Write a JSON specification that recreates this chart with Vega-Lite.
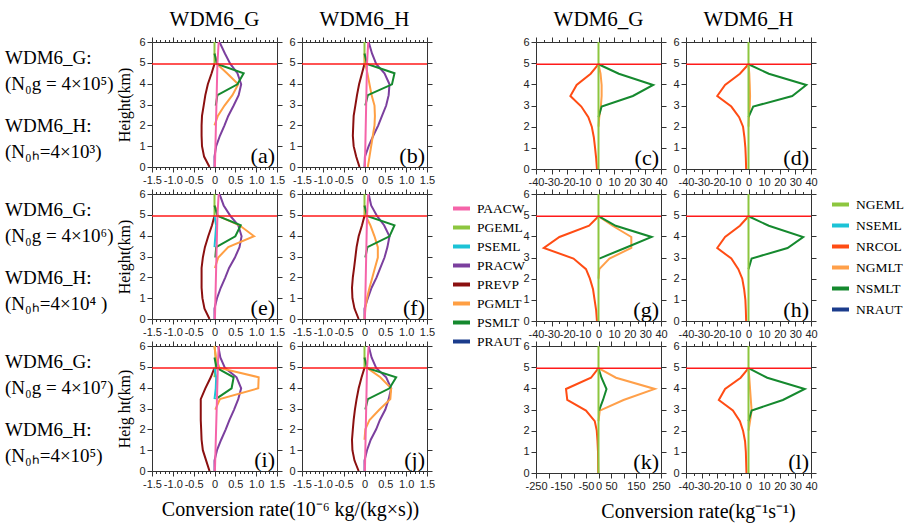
{
  "$schema": "https://vega.github.io/schema/vega-lite/v6.json",
  "padding": {"left": 5, "top": 8, "right": 2, "bottom": 2},
  "background": "white",
  "config": {
    "view": {"stroke": "#333333", "strokeWidth": 1},
    "font": "Liberation Serif",
    "axis": {"domain": false, "grid": false, "title": null, "labelFont": "Liberation Sans", "labelFontSize": 11, "labelColor": "#222222", "tickColor": "#333333", "labelFlush": false, "labelOverlap": false, "labelBound": false, "labelPadding": 2, "titleFont": "Liberation Serif", "titleFontSize": 16, "titleFontWeight": "normal", "titleColor": "black"},
    "legend": {"title": null, "labelFont": "Liberation Serif", "labelFontSize": 13.5, "labelColor": "black", "symbolType": "stroke", "symbolStrokeWidth": 4, "symbolSize": 289, "labelOffset": 5, "labelLimit": 0},
    "title": {"font": "Liberation Serif", "fontSize": 21, "fontWeight": "normal", "color": "black", "offset": 6}
  },
  "datasets": {
    "T": [
      {"row": 1, "m": "G", "t": "WDM6_G:\n(N₀g = 4×10⁵)"},
      {"row": 1, "m": "H", "t": "WDM6_H:\n(N₀ₕ=4×10³)"},
      {"row": 2, "m": "G", "t": "WDM6_G:\n(N₀g = 4×10⁶)"},
      {"row": 2, "m": "H", "t": "WDM6_H:\n(N₀ₕ=4×10⁴ )"},
      {"row": 3, "m": "G", "t": "WDM6_G:\n(N₀g = 4×10⁷)"},
      {"row": 3, "m": "H", "t": "WDM6_H:\n(N₀ₕ=4×10⁵)"}
    ],
    "L": [
      {"pan":"a","p":"PGEML","h":4.95,"v":0},{"pan":"a","p":"PGEML","h":6,"v":0},
      {"pan":"a","p":"PREVP","h":0,"v":-0.12},{"pan":"a","p":"PREVP","h":0.5,"v":-0.25},{"pan":"a","p":"PREVP","h":1,"v":-0.3},{"pan":"a","p":"PREVP","h":1.5,"v":-0.31},{"pan":"a","p":"PREVP","h":2,"v":-0.31},{"pan":"a","p":"PREVP","h":2.45,"v":-0.3},{"pan":"a","p":"PREVP","h":2.95,"v":-0.26},{"pan":"a","p":"PREVP","h":3.45,"v":-0.22},{"pan":"a","p":"PREVP","h":3.97,"v":-0.16},{"pan":"a","p":"PREVP","h":4.5,"v":-0.07},{"pan":"a","p":"PREVP","h":4.95,"v":0},
      {"pan":"a","p":"PRACW","h":0,"v":0},{"pan":"a","p":"PRACW","h":0.5,"v":0},{"pan":"a","p":"PRACW","h":1,"v":0.04},{"pan":"a","p":"PRACW","h":1.5,"v":0.13},{"pan":"a","p":"PRACW","h":2,"v":0.24},{"pan":"a","p":"PRACW","h":2.45,"v":0.33},{"pan":"a","p":"PRACW","h":2.95,"v":0.46},{"pan":"a","p":"PRACW","h":3.45,"v":0.58},{"pan":"a","p":"PRACW","h":3.97,"v":0.64},{"pan":"a","p":"PRACW","h":4.5,"v":0.55},{"pan":"a","p":"PRACW","h":4.95,"v":0.38},{"pan":"a","p":"PRACW","h":5.45,"v":0.25},{"pan":"a","p":"PRACW","h":6,"v":0.12},
      {"pan":"a","p":"PGMLT","h":2,"v":0},{"pan":"a","p":"PGMLT","h":2.45,"v":0.08},{"pan":"a","p":"PGMLT","h":2.95,"v":0.24},{"pan":"a","p":"PGMLT","h":3.45,"v":0.43},{"pan":"a","p":"PGMLT","h":3.97,"v":0.57},{"pan":"a","p":"PGMLT","h":4.5,"v":0.3},{"pan":"a","p":"PGMLT","h":4.95,"v":0.06},{"pan":"a","p":"PGMLT","h":5.45,"v":0},
      {"pan":"a","p":"PSMLT","h":2.95,"v":0.03},{"pan":"a","p":"PSMLT","h":3.45,"v":0.07},{"pan":"a","p":"PSMLT","h":3.97,"v":0.55},{"pan":"a","p":"PSMLT","h":4.5,"v":0.7},{"pan":"a","p":"PSMLT","h":4.95,"v":0.06},{"pan":"a","p":"PSMLT","h":5.45,"v":0},
      {"pan":"a","p":"PAACW","h":0,"v":0.01},{"pan":"a","p":"PAACW","h":4.95,"v":0.07},{"pan":"a","p":"PAACW","h":6,"v":0.1},

      {"pan":"b","p":"PGEML","h":4.95,"v":0},{"pan":"b","p":"PGEML","h":6,"v":0},
      {"pan":"b","p":"PREVP","h":0,"v":-0.12},{"pan":"b","p":"PREVP","h":0.5,"v":-0.2},{"pan":"b","p":"PREVP","h":1,"v":-0.26},{"pan":"b","p":"PREVP","h":1.5,"v":-0.28},{"pan":"b","p":"PREVP","h":2,"v":-0.27},{"pan":"b","p":"PREVP","h":2.45,"v":-0.26},{"pan":"b","p":"PREVP","h":2.95,"v":-0.22},{"pan":"b","p":"PREVP","h":3.45,"v":-0.18},{"pan":"b","p":"PREVP","h":3.97,"v":-0.13},{"pan":"b","p":"PREVP","h":4.5,"v":-0.06},{"pan":"b","p":"PREVP","h":4.95,"v":0},
      {"pan":"b","p":"PRACW","h":0,"v":0},{"pan":"b","p":"PRACW","h":0.5,"v":0.01},{"pan":"b","p":"PRACW","h":1,"v":0.1},{"pan":"b","p":"PRACW","h":1.5,"v":0.21},{"pan":"b","p":"PRACW","h":2,"v":0.33},{"pan":"b","p":"PRACW","h":2.45,"v":0.42},{"pan":"b","p":"PRACW","h":2.95,"v":0.52},{"pan":"b","p":"PRACW","h":3.45,"v":0.58},{"pan":"b","p":"PRACW","h":3.97,"v":0.6},{"pan":"b","p":"PRACW","h":4.5,"v":0.48},{"pan":"b","p":"PRACW","h":4.95,"v":0.28},{"pan":"b","p":"PRACW","h":5.45,"v":0.18},{"pan":"b","p":"PRACW","h":6,"v":0.1},
      {"pan":"b","p":"PGMLT","h":0,"v":0.08},{"pan":"b","p":"PGMLT","h":0.5,"v":0.12},{"pan":"b","p":"PGMLT","h":1,"v":0.16},{"pan":"b","p":"PGMLT","h":1.5,"v":0.2},{"pan":"b","p":"PGMLT","h":2,"v":0.24},{"pan":"b","p":"PGMLT","h":2.45,"v":0.25},{"pan":"b","p":"PGMLT","h":2.95,"v":0.24},{"pan":"b","p":"PGMLT","h":3.45,"v":0.17},{"pan":"b","p":"PGMLT","h":3.97,"v":0.12},{"pan":"b","p":"PGMLT","h":4.5,"v":0.07},{"pan":"b","p":"PGMLT","h":4.95,"v":0.02},{"pan":"b","p":"PGMLT","h":5.45,"v":0},
      {"pan":"b","p":"PSMLT","h":2.95,"v":0.02},{"pan":"b","p":"PSMLT","h":3.45,"v":0.08},{"pan":"b","p":"PSMLT","h":3.97,"v":0.66},{"pan":"b","p":"PSMLT","h":4.5,"v":0.72},{"pan":"b","p":"PSMLT","h":4.95,"v":0.06},{"pan":"b","p":"PSMLT","h":5.45,"v":0},
      {"pan":"b","p":"PAACW","h":0,"v":0.01},{"pan":"b","p":"PAACW","h":4.95,"v":0.06},{"pan":"b","p":"PAACW","h":6,"v":0.09},

      {"pan":"e","p":"PGEML","h":4.95,"v":0},{"pan":"e","p":"PGEML","h":6,"v":0},
      {"pan":"e","p":"PREVP","h":0,"v":-0.12},{"pan":"e","p":"PREVP","h":0.5,"v":-0.24},{"pan":"e","p":"PREVP","h":1,"v":-0.29},{"pan":"e","p":"PREVP","h":1.5,"v":-0.31},{"pan":"e","p":"PREVP","h":2,"v":-0.31},{"pan":"e","p":"PREVP","h":2.45,"v":-0.31},{"pan":"e","p":"PREVP","h":2.95,"v":-0.28},{"pan":"e","p":"PREVP","h":3.45,"v":-0.23},{"pan":"e","p":"PREVP","h":3.97,"v":-0.15},{"pan":"e","p":"PREVP","h":4.5,"v":-0.06},{"pan":"e","p":"PREVP","h":4.95,"v":0},
      {"pan":"e","p":"PRACW","h":0,"v":0},{"pan":"e","p":"PRACW","h":0.5,"v":0},{"pan":"e","p":"PRACW","h":1,"v":0.06},{"pan":"e","p":"PRACW","h":1.5,"v":0.15},{"pan":"e","p":"PRACW","h":2,"v":0.26},{"pan":"e","p":"PRACW","h":2.45,"v":0.35},{"pan":"e","p":"PRACW","h":2.95,"v":0.49},{"pan":"e","p":"PRACW","h":3.45,"v":0.6},{"pan":"e","p":"PRACW","h":3.97,"v":0.65},{"pan":"e","p":"PRACW","h":4.5,"v":0.57},{"pan":"e","p":"PRACW","h":4.95,"v":0.38},{"pan":"e","p":"PRACW","h":5.45,"v":0.22},{"pan":"e","p":"PRACW","h":6,"v":0.12},
      {"pan":"e","p":"PGMLT","h":2.45,"v":0.01},{"pan":"e","p":"PGMLT","h":2.95,"v":0.09},{"pan":"e","p":"PGMLT","h":3.45,"v":0.33},{"pan":"e","p":"PGMLT","h":3.97,"v":0.95},{"pan":"e","p":"PGMLT","h":4.5,"v":0.6},{"pan":"e","p":"PGMLT","h":4.95,"v":0.08},{"pan":"e","p":"PGMLT","h":5.3,"v":0.04},{"pan":"e","p":"PGMLT","h":5.45,"v":0},
      {"pan":"e","p":"PSMLT","h":2.95,"v":0.02},{"pan":"e","p":"PSMLT","h":3.45,"v":0.04},{"pan":"e","p":"PSMLT","h":3.97,"v":0.5},{"pan":"e","p":"PSMLT","h":4.5,"v":0.63},{"pan":"e","p":"PSMLT","h":4.95,"v":0.07},{"pan":"e","p":"PSMLT","h":5.45,"v":0},
      {"pan":"e","p":"PSEML","h":3.45,"v":0},{"pan":"e","p":"PSEML","h":3.97,"v":0.02},{"pan":"e","p":"PSEML","h":4.5,"v":0.04},{"pan":"e","p":"PSEML","h":4.95,"v":0},
      {"pan":"e","p":"PAACW","h":0,"v":0.01},{"pan":"e","p":"PAACW","h":4.95,"v":0.07},{"pan":"e","p":"PAACW","h":6,"v":0.1},

      {"pan":"f","p":"PGEML","h":4.95,"v":0},{"pan":"f","p":"PGEML","h":6,"v":0},
      {"pan":"f","p":"PREVP","h":0,"v":-0.14},{"pan":"f","p":"PREVP","h":0.5,"v":-0.24},{"pan":"f","p":"PREVP","h":1,"v":-0.29},{"pan":"f","p":"PREVP","h":1.5,"v":-0.3},{"pan":"f","p":"PREVP","h":2,"v":-0.28},{"pan":"f","p":"PREVP","h":2.45,"v":-0.25},{"pan":"f","p":"PREVP","h":2.95,"v":-0.22},{"pan":"f","p":"PREVP","h":3.45,"v":-0.19},{"pan":"f","p":"PREVP","h":3.97,"v":-0.14},{"pan":"f","p":"PREVP","h":4.5,"v":-0.06},{"pan":"f","p":"PREVP","h":4.95,"v":0},
      {"pan":"f","p":"PRACW","h":0,"v":0},{"pan":"f","p":"PRACW","h":0.5,"v":0},{"pan":"f","p":"PRACW","h":1,"v":0.08},{"pan":"f","p":"PRACW","h":1.5,"v":0.17},{"pan":"f","p":"PRACW","h":2,"v":0.29},{"pan":"f","p":"PRACW","h":2.45,"v":0.38},{"pan":"f","p":"PRACW","h":2.95,"v":0.48},{"pan":"f","p":"PRACW","h":3.45,"v":0.55},{"pan":"f","p":"PRACW","h":3.97,"v":0.6},{"pan":"f","p":"PRACW","h":4.5,"v":0.47},{"pan":"f","p":"PRACW","h":4.95,"v":0.3},{"pan":"f","p":"PRACW","h":5.45,"v":0.16},{"pan":"f","p":"PRACW","h":6,"v":0.1},
      {"pan":"f","p":"PGMLT","h":0,"v":0},{"pan":"f","p":"PGMLT","h":0.5,"v":0.02},{"pan":"f","p":"PGMLT","h":1,"v":0.06},{"pan":"f","p":"PGMLT","h":1.5,"v":0.12},{"pan":"f","p":"PGMLT","h":2,"v":0.19},{"pan":"f","p":"PGMLT","h":2.45,"v":0.25},{"pan":"f","p":"PGMLT","h":2.95,"v":0.32},{"pan":"f","p":"PGMLT","h":3.45,"v":0.32},{"pan":"f","p":"PGMLT","h":3.97,"v":0.24},{"pan":"f","p":"PGMLT","h":4.5,"v":0.14},{"pan":"f","p":"PGMLT","h":4.95,"v":0.03},{"pan":"f","p":"PGMLT","h":5.45,"v":0},
      {"pan":"f","p":"PSMLT","h":2.95,"v":0.02},{"pan":"f","p":"PSMLT","h":3.45,"v":0.07},{"pan":"f","p":"PSMLT","h":3.97,"v":0.6},{"pan":"f","p":"PSMLT","h":4.5,"v":0.72},{"pan":"f","p":"PSMLT","h":4.95,"v":0.06},{"pan":"f","p":"PSMLT","h":5.45,"v":0},
      {"pan":"f","p":"PAACW","h":0,"v":0.01},{"pan":"f","p":"PAACW","h":4.95,"v":0.06},{"pan":"f","p":"PAACW","h":6,"v":0.09},

      {"pan":"i","p":"PGEML","h":4.5,"v":0},{"pan":"i","p":"PGEML","h":4.95,"v":0.03},{"pan":"i","p":"PGEML","h":5.45,"v":0.03},{"pan":"i","p":"PGEML","h":6,"v":0},
      {"pan":"i","p":"PREVP","h":0,"v":-0.12},{"pan":"i","p":"PREVP","h":0.5,"v":-0.2},{"pan":"i","p":"PREVP","h":1,"v":-0.28},{"pan":"i","p":"PREVP","h":1.5,"v":-0.31},{"pan":"i","p":"PREVP","h":2,"v":-0.32},{"pan":"i","p":"PREVP","h":2.45,"v":-0.33},{"pan":"i","p":"PREVP","h":2.95,"v":-0.33},{"pan":"i","p":"PREVP","h":3.45,"v":-0.33},{"pan":"i","p":"PREVP","h":3.97,"v":-0.22},{"pan":"i","p":"PREVP","h":4.5,"v":-0.09},{"pan":"i","p":"PREVP","h":4.95,"v":0},
      {"pan":"i","p":"PRACW","h":0,"v":0},{"pan":"i","p":"PRACW","h":0.5,"v":0},{"pan":"i","p":"PRACW","h":1,"v":0.06},{"pan":"i","p":"PRACW","h":1.5,"v":0.16},{"pan":"i","p":"PRACW","h":2,"v":0.27},{"pan":"i","p":"PRACW","h":2.45,"v":0.36},{"pan":"i","p":"PRACW","h":2.95,"v":0.47},{"pan":"i","p":"PRACW","h":3.45,"v":0.57},{"pan":"i","p":"PRACW","h":3.97,"v":0.64},{"pan":"i","p":"PRACW","h":4.5,"v":0.53},{"pan":"i","p":"PRACW","h":4.95,"v":0.25},{"pan":"i","p":"PRACW","h":5.45,"v":0.14},{"pan":"i","p":"PRACW","h":6,"v":0.09},
      {"pan":"i","p":"PGMLT","h":2.95,"v":0.02},{"pan":"i","p":"PGMLT","h":3.45,"v":0.13},{"pan":"i","p":"PGMLT","h":3.97,"v":1.05},{"pan":"i","p":"PGMLT","h":4.5,"v":1.06},{"pan":"i","p":"PGMLT","h":4.95,"v":0.12},{"pan":"i","p":"PGMLT","h":5.45,"v":0.03},{"pan":"i","p":"PGMLT","h":6,"v":0},
      {"pan":"i","p":"PSMLT","h":3.45,"v":0.03},{"pan":"i","p":"PSMLT","h":3.97,"v":0.41},{"pan":"i","p":"PSMLT","h":4.5,"v":0.46},{"pan":"i","p":"PSMLT","h":4.95,"v":0.05},{"pan":"i","p":"PSMLT","h":5.45,"v":0},
      {"pan":"i","p":"PSEML","h":3.45,"v":0},{"pan":"i","p":"PSEML","h":3.97,"v":0.03},{"pan":"i","p":"PSEML","h":4.5,"v":0.04},{"pan":"i","p":"PSEML","h":4.95,"v":0},
      {"pan":"i","p":"PAACW","h":0,"v":0.01},{"pan":"i","p":"PAACW","h":4.95,"v":0.08},{"pan":"i","p":"PAACW","h":6,"v":0.1},

      {"pan":"j","p":"PGEML","h":4.95,"v":0},{"pan":"j","p":"PGEML","h":6,"v":0},
      {"pan":"j","p":"PREVP","h":0,"v":-0.14},{"pan":"j","p":"PREVP","h":0.5,"v":-0.24},{"pan":"j","p":"PREVP","h":1,"v":-0.29},{"pan":"j","p":"PREVP","h":1.5,"v":-0.3},{"pan":"j","p":"PREVP","h":2,"v":-0.28},{"pan":"j","p":"PREVP","h":2.45,"v":-0.26},{"pan":"j","p":"PREVP","h":2.95,"v":-0.23},{"pan":"j","p":"PREVP","h":3.45,"v":-0.19},{"pan":"j","p":"PREVP","h":3.97,"v":-0.14},{"pan":"j","p":"PREVP","h":4.5,"v":-0.07},{"pan":"j","p":"PREVP","h":4.95,"v":0},
      {"pan":"j","p":"PRACW","h":0,"v":0},{"pan":"j","p":"PRACW","h":0.5,"v":0},{"pan":"j","p":"PRACW","h":1,"v":0.06},{"pan":"j","p":"PRACW","h":1.5,"v":0.15},{"pan":"j","p":"PRACW","h":2,"v":0.28},{"pan":"j","p":"PRACW","h":2.45,"v":0.37},{"pan":"j","p":"PRACW","h":2.95,"v":0.5},{"pan":"j","p":"PRACW","h":3.45,"v":0.58},{"pan":"j","p":"PRACW","h":3.97,"v":0.64},{"pan":"j","p":"PRACW","h":4.5,"v":0.52},{"pan":"j","p":"PRACW","h":4.95,"v":0.28},{"pan":"j","p":"PRACW","h":5.45,"v":0.17},{"pan":"j","p":"PRACW","h":6,"v":0.1},
      {"pan":"j","p":"PGMLT","h":1.5,"v":0},{"pan":"j","p":"PGMLT","h":2,"v":0.02},{"pan":"j","p":"PGMLT","h":2.45,"v":0.12},{"pan":"j","p":"PGMLT","h":2.95,"v":0.36},{"pan":"j","p":"PGMLT","h":3.45,"v":0.62},{"pan":"j","p":"PGMLT","h":3.97,"v":0.64},{"pan":"j","p":"PGMLT","h":4.5,"v":0.38},{"pan":"j","p":"PGMLT","h":4.95,"v":0.06},{"pan":"j","p":"PGMLT","h":5.45,"v":0},
      {"pan":"j","p":"PSMLT","h":2.95,"v":0.02},{"pan":"j","p":"PSMLT","h":3.45,"v":0.08},{"pan":"j","p":"PSMLT","h":3.97,"v":0.6},{"pan":"j","p":"PSMLT","h":4.5,"v":0.76},{"pan":"j","p":"PSMLT","h":4.95,"v":0.06},{"pan":"j","p":"PSMLT","h":5.45,"v":0},
      {"pan":"j","p":"PAACW","h":0,"v":0.01},{"pan":"j","p":"PAACW","h":4.95,"v":0.06},{"pan":"j","p":"PAACW","h":6,"v":0.1}
    ],
    "R": [
      {"pan":"c","p":"NRCOL","h":0,"v":-1},{"pan":"c","p":"NRCOL","h":0.5,"v":-1.5},{"pan":"c","p":"NRCOL","h":1,"v":-2.2},{"pan":"c","p":"NRCOL","h":1.5,"v":-3},{"pan":"c","p":"NRCOL","h":2,"v":-4.3},{"pan":"c","p":"NRCOL","h":2.45,"v":-6.5},{"pan":"c","p":"NRCOL","h":2.95,"v":-11},{"pan":"c","p":"NRCOL","h":3.45,"v":-18},{"pan":"c","p":"NRCOL","h":3.97,"v":-14},{"pan":"c","p":"NRCOL","h":4.5,"v":-5},{"pan":"c","p":"NRCOL","h":4.95,"v":0},
      {"pan":"c","p":"NGMLT","h":2,"v":0},{"pan":"c","p":"NGMLT","h":2.45,"v":0.5},{"pan":"c","p":"NGMLT","h":2.95,"v":1.5},{"pan":"c","p":"NGMLT","h":3.45,"v":2},{"pan":"c","p":"NGMLT","h":3.97,"v":2},{"pan":"c","p":"NGMLT","h":4.5,"v":1.3},{"pan":"c","p":"NGMLT","h":4.95,"v":0},
      {"pan":"c","p":"NSMLT","h":2.45,"v":0},{"pan":"c","p":"NSMLT","h":2.95,"v":2},{"pan":"c","p":"NSMLT","h":3.45,"v":22},{"pan":"c","p":"NSMLT","h":3.97,"v":35},{"pan":"c","p":"NSMLT","h":4.5,"v":13},{"pan":"c","p":"NSMLT","h":4.95,"v":0},
      {"pan":"c","p":"NGEML","h":0,"v":0},{"pan":"c","p":"NGEML","h":6,"v":0},

      {"pan":"d","p":"NRCOL","h":0,"v":-1.5},{"pan":"d","p":"NRCOL","h":0.5,"v":-1.7},{"pan":"d","p":"NRCOL","h":1,"v":-2},{"pan":"d","p":"NRCOL","h":1.5,"v":-2.6},{"pan":"d","p":"NRCOL","h":2,"v":-3.5},{"pan":"d","p":"NRCOL","h":2.45,"v":-6},{"pan":"d","p":"NRCOL","h":2.95,"v":-11},{"pan":"d","p":"NRCOL","h":3.45,"v":-20},{"pan":"d","p":"NRCOL","h":3.97,"v":-15},{"pan":"d","p":"NRCOL","h":4.5,"v":-5.5},{"pan":"d","p":"NRCOL","h":4.95,"v":0},
      {"pan":"d","p":"NGMLT","h":2,"v":0},{"pan":"d","p":"NGMLT","h":2.45,"v":0.3},{"pan":"d","p":"NGMLT","h":2.95,"v":0.8},{"pan":"d","p":"NGMLT","h":3.45,"v":1},{"pan":"d","p":"NGMLT","h":3.97,"v":0.8},{"pan":"d","p":"NGMLT","h":4.5,"v":0.5},{"pan":"d","p":"NGMLT","h":4.95,"v":0},
      {"pan":"d","p":"NSMLT","h":2.45,"v":0},{"pan":"d","p":"NSMLT","h":2.95,"v":3},{"pan":"d","p":"NSMLT","h":3.45,"v":28},{"pan":"d","p":"NSMLT","h":3.97,"v":37},{"pan":"d","p":"NSMLT","h":4.5,"v":13},{"pan":"d","p":"NSMLT","h":4.95,"v":0},
      {"pan":"d","p":"NGEML","h":0,"v":0},{"pan":"d","p":"NGEML","h":6,"v":0},

      {"pan":"g","p":"NRCOL","h":0,"v":-1},{"pan":"g","p":"NRCOL","h":0.5,"v":-1.5},{"pan":"g","p":"NRCOL","h":1,"v":-2.5},{"pan":"g","p":"NRCOL","h":1.5,"v":-3.5},{"pan":"g","p":"NRCOL","h":2,"v":-5.5},{"pan":"g","p":"NRCOL","h":2.45,"v":-8},{"pan":"g","p":"NRCOL","h":2.95,"v":-16},{"pan":"g","p":"NRCOL","h":3.45,"v":-35},{"pan":"g","p":"NRCOL","h":3.97,"v":-25},{"pan":"g","p":"NRCOL","h":4.5,"v":-6},{"pan":"g","p":"NRCOL","h":4.95,"v":0},
      {"pan":"g","p":"NGMLT","h":2,"v":0},{"pan":"g","p":"NGMLT","h":2.45,"v":0.5},{"pan":"g","p":"NGMLT","h":2.95,"v":7},{"pan":"g","p":"NGMLT","h":3.45,"v":21},{"pan":"g","p":"NGMLT","h":3.97,"v":21},{"pan":"g","p":"NGMLT","h":4.5,"v":9},{"pan":"g","p":"NGMLT","h":4.95,"v":0},
      {"pan":"g","p":"NSMLT","h":2.95,"v":0.5},{"pan":"g","p":"NSMLT","h":3.45,"v":17},{"pan":"g","p":"NSMLT","h":3.97,"v":34},{"pan":"g","p":"NSMLT","h":4.5,"v":11},{"pan":"g","p":"NSMLT","h":4.95,"v":0},
      {"pan":"g","p":"NGEML","h":0,"v":0},{"pan":"g","p":"NGEML","h":6,"v":0},

      {"pan":"h","p":"NRCOL","h":0,"v":-1.5},{"pan":"h","p":"NRCOL","h":0.5,"v":-1.7},{"pan":"h","p":"NRCOL","h":1,"v":-2},{"pan":"h","p":"NRCOL","h":1.5,"v":-2.8},{"pan":"h","p":"NRCOL","h":2,"v":-4},{"pan":"h","p":"NRCOL","h":2.45,"v":-6.5},{"pan":"h","p":"NRCOL","h":2.95,"v":-11},{"pan":"h","p":"NRCOL","h":3.45,"v":-20},{"pan":"h","p":"NRCOL","h":3.97,"v":-15},{"pan":"h","p":"NRCOL","h":4.5,"v":-5.5},{"pan":"h","p":"NRCOL","h":4.95,"v":0},
      {"pan":"h","p":"NSMLT","h":2.45,"v":0},{"pan":"h","p":"NSMLT","h":2.95,"v":2},{"pan":"h","p":"NSMLT","h":3.45,"v":25},{"pan":"h","p":"NSMLT","h":3.97,"v":35},{"pan":"h","p":"NSMLT","h":4.5,"v":13},{"pan":"h","p":"NSMLT","h":4.95,"v":0},
      {"pan":"h","p":"NGEML","h":0,"v":0},{"pan":"h","p":"NGEML","h":6,"v":0},

      {"pan":"k","p":"NRCOL","h":0,"v":-1},{"pan":"k","p":"NRCOL","h":0.5,"v":-1.5},{"pan":"k","p":"NRCOL","h":1,"v":-2},{"pan":"k","p":"NRCOL","h":1.5,"v":-4},{"pan":"k","p":"NRCOL","h":2,"v":-7},{"pan":"k","p":"NRCOL","h":2.45,"v":-15},{"pan":"k","p":"NRCOL","h":2.95,"v":-50},{"pan":"k","p":"NRCOL","h":3.45,"v":-125},{"pan":"k","p":"NRCOL","h":3.97,"v":-130},{"pan":"k","p":"NRCOL","h":4.5,"v":-30},{"pan":"k","p":"NRCOL","h":4.95,"v":0},
      {"pan":"k","p":"NGMLT","h":2.45,"v":0},{"pan":"k","p":"NGMLT","h":2.95,"v":5},{"pan":"k","p":"NGMLT","h":3.45,"v":100},{"pan":"k","p":"NGMLT","h":3.97,"v":225},{"pan":"k","p":"NGMLT","h":4.5,"v":70},{"pan":"k","p":"NGMLT","h":4.95,"v":0},
      {"pan":"k","p":"NSMLT","h":2.95,"v":2},{"pan":"k","p":"NSMLT","h":3.45,"v":18},{"pan":"k","p":"NSMLT","h":3.97,"v":32},{"pan":"k","p":"NSMLT","h":4.5,"v":12},{"pan":"k","p":"NSMLT","h":4.95,"v":0},
      {"pan":"k","p":"NGEML","h":0,"v":0},{"pan":"k","p":"NGEML","h":6,"v":0},

      {"pan":"l","p":"NRCOL","h":0,"v":-1.3},{"pan":"l","p":"NRCOL","h":0.5,"v":-1.5},{"pan":"l","p":"NRCOL","h":1,"v":-1.7},{"pan":"l","p":"NRCOL","h":1.5,"v":-2.2},{"pan":"l","p":"NRCOL","h":2,"v":-3.5},{"pan":"l","p":"NRCOL","h":2.45,"v":-5.5},{"pan":"l","p":"NRCOL","h":2.95,"v":-10},{"pan":"l","p":"NRCOL","h":3.45,"v":-19},{"pan":"l","p":"NRCOL","h":3.97,"v":-15},{"pan":"l","p":"NRCOL","h":4.5,"v":-5},{"pan":"l","p":"NRCOL","h":4.95,"v":0},
      {"pan":"l","p":"NGMLT","h":2,"v":0},{"pan":"l","p":"NGMLT","h":2.45,"v":1},{"pan":"l","p":"NGMLT","h":2.95,"v":2},{"pan":"l","p":"NGMLT","h":3.45,"v":1.5},{"pan":"l","p":"NGMLT","h":3.97,"v":1},{"pan":"l","p":"NGMLT","h":4.5,"v":0.5},{"pan":"l","p":"NGMLT","h":4.95,"v":0},
      {"pan":"l","p":"NSMLT","h":2.45,"v":0},{"pan":"l","p":"NSMLT","h":2.95,"v":2},{"pan":"l","p":"NSMLT","h":3.45,"v":22},{"pan":"l","p":"NSMLT","h":3.97,"v":36},{"pan":"l","p":"NSMLT","h":4.5,"v":12},{"pan":"l","p":"NSMLT","h":4.95,"v":0},
      {"pan":"l","p":"NGEML","h":0,"v":0},{"pan":"l","p":"NGEML","h":6,"v":0}
    ]
  },
  "resolve": {"scale": {"color": "independent"}, "legend": {"color": "independent"}},
  "bounds": "flush",
  "columns": 6,
  "spacing": {"row": 25, "column": 25},
  "concat": [
    {"width": 122, "height": 125, "view": {"stroke": null}, "data": {"name": "T"}, "transform": [{"filter": "datum.row==1"}],
     "mark": {"type": "text", "align": "left", "baseline": "middle", "font": "Liberation Serif", "fontSize": 19, "lineHeight": 26, "lineBreak": "\n", "color": "black"},
     "encoding": {"x": {"datum": 0, "type": "quantitative", "scale": {"domain": [0, 1]}, "axis": null}, "y": {"field": "m", "type": "nominal", "scale": {"type": "point", "padding": 0.419, "align": 0.28}, "axis": null}, "text": {"field": "t", "type": "nominal"}}},
    {"width": 125, "height": 125, "title": {"text": "WDM6_G"}, "layer": [
      {"data": {"name": "L"}, "transform": [{"filter": "datum.pan=='a'"}], "mark": {"type": "line", "strokeWidth": 2, "clip": true},
       "encoding": {
         "x": {"field": "v", "type": "quantitative", "scale": {"domain": [-1.5, 1.5], "nice": false, "zero": false}, "axis": {"orient": "bottom", "values": [-1.5,-1.4,-1.3,-1.2,-1.1,-1,-0.9,-0.8,-0.7,-0.6,-0.5,-0.4,-0.3,-0.2,-0.1,0,0.1,0.2,0.3,0.4,0.5,0.6,0.7,0.8,0.9,1,1.1,1.2,1.3,1.4,1.5], "labelExpr": "abs(datum.value*2-round(datum.value*2))<0.01 ? (abs(datum.value)<0.01 ? '0' : (datum.value<0?'-':'')+format(abs(datum.value),'.1f')) : ''", "tickSize": {"condition": {"test": "abs(datum.value*2-round(datum.value*2))<0.01", "value": 5}, "value": 2.5}}},
         "y": {"field": "h", "type": "quantitative", "scale": {"domain": [0, 6], "nice": false, "zero": false}, "axis": {"orient": "left", "values": [0,1,2,3,4,5,6], "tickSize": 5, "title": "Height(km)", "titlePadding": 6}},
         "color": {"field": "p", "type": "nominal", "scale": {"domain": ["PAACW","PGEML","PSEML","PRACW","PREVP","PGMLT","PSMLT","PRAUT"], "range": ["#f564a9","#8dc63f","#1cc3d6","#7b3f9e","#8b1010","#ff9f43","#15892e","#1b3c8c"]}, "legend": null},
         "order": {"field": "h", "type": "quantitative"}}},
      {"data": {"values": [{}]}, "mark": {"type": "rule", "color": "#ff1a1a", "strokeWidth": 1.5}, "encoding": {"y": {"datum": 4.95, "type": "quantitative", "axis": {"orient": "right", "values": [0,1,2,3,4,5,6], "labels": false, "tickSize": 5, "title": null}}}},
      {"data": {"values": [{}]}, "mark": {"type": "text", "align": "right", "baseline": "alphabetic", "font": "Liberation Serif", "fontSize": 22, "dx": -2, "dy": -4, "color": "black"}, "encoding": {"x": {"datum": 1.5, "type": "quantitative", "axis": {"orient": "top", "values": [-1.5,-1.4,-1.3,-1.2,-1.1,-1,-0.9,-0.8,-0.7,-0.6,-0.5,-0.4,-0.3,-0.2,-0.1,0,0.1,0.2,0.3,0.4,0.5,0.6,0.7,0.8,0.9,1,1.1,1.2,1.3,1.4,1.5], "labels": false, "title": null, "tickSize": {"condition": {"test": "abs(datum.value*2-round(datum.value*2))<0.01", "value": 5}, "value": 2.5}}}, "y": {"datum": 0, "type": "quantitative", "axis": null}, "text": {"value": "(a)"}}}
    ]},
    {"width": 125, "height": 125, "title": {"text": "WDM6_H"}, "layer": [
      {"data": {"name": "L"}, "transform": [{"filter": "datum.pan=='b'"}], "mark": {"type": "line", "strokeWidth": 2, "clip": true},
       "encoding": {
         "x": {"field": "v", "type": "quantitative", "scale": {"domain": [-1.5, 1.5], "nice": false, "zero": false}, "axis": {"orient": "bottom", "values": [-1.5,-1.4,-1.3,-1.2,-1.1,-1,-0.9,-0.8,-0.7,-0.6,-0.5,-0.4,-0.3,-0.2,-0.1,0,0.1,0.2,0.3,0.4,0.5,0.6,0.7,0.8,0.9,1,1.1,1.2,1.3,1.4,1.5], "labelExpr": "abs(datum.value*2-round(datum.value*2))<0.01 ? (abs(datum.value)<0.01 ? '0' : (datum.value<0?'-':'')+format(abs(datum.value),'.1f')) : ''", "tickSize": {"condition": {"test": "abs(datum.value*2-round(datum.value*2))<0.01", "value": 5}, "value": 2.5}}},
         "y": {"field": "h", "type": "quantitative", "scale": {"domain": [0, 6], "nice": false, "zero": false}, "axis": {"orient": "left", "values": [0,1,2,3,4,5,6], "tickSize": 5}},
         "color": {"field": "p", "type": "nominal", "scale": {"domain": ["PAACW","PGEML","PSEML","PRACW","PREVP","PGMLT","PSMLT","PRAUT"], "range": ["#f564a9","#8dc63f","#1cc3d6","#7b3f9e","#8b1010","#ff9f43","#15892e","#1b3c8c"]}, "legend": null},
         "order": {"field": "h", "type": "quantitative"}}},
      {"data": {"values": [{}]}, "mark": {"type": "rule", "color": "#ff1a1a", "strokeWidth": 1.5}, "encoding": {"y": {"datum": 4.95, "type": "quantitative", "axis": {"orient": "right", "values": [0,1,2,3,4,5,6], "labels": false, "tickSize": 5, "title": null}}}},
      {"data": {"values": [{}]}, "mark": {"type": "text", "align": "right", "baseline": "alphabetic", "font": "Liberation Serif", "fontSize": 22, "dx": -2, "dy": -4, "color": "black"}, "encoding": {"x": {"datum": 1.5, "type": "quantitative", "axis": {"orient": "top", "values": [-1.5,-1.4,-1.3,-1.2,-1.1,-1,-0.9,-0.8,-0.7,-0.6,-0.5,-0.4,-0.3,-0.2,-0.1,0,0.1,0.2,0.3,0.4,0.5,0.6,0.7,0.8,0.9,1,1.1,1.2,1.3,1.4,1.5], "labels": false, "title": null, "tickSize": {"condition": {"test": "abs(datum.value*2-round(datum.value*2))<0.01", "value": 5}, "value": 2.5}}}, "y": {"datum": 0, "type": "quantitative", "axis": null}, "text": {"value": "(b)"}}}
    ]},
    {"width": 59, "height": 125, "view": {"stroke": null}, "data": {"values": [{}]}, "mark": {"type": "text"}, "encoding": {"text": {"value": ""}}},
    {"width": 125, "height": 127, "title": {"text": "WDM6_G"}, "layer": [
      {"data": {"name": "R"}, "transform": [{"filter": "datum.pan=='c'"}], "mark": {"type": "line", "strokeWidth": 2, "clip": true},
       "encoding": {
         "x": {"field": "v", "type": "quantitative", "scale": {"domain": [-40, 40], "nice": false, "zero": false}, "axis": {"orient": "bottom", "values": [-40,-35,-30,-25,-20,-15,-10,-5,0,5,10,15,20,25,30,35,40], "labelExpr": "datum.value%10==0 ? (datum.value<0?'-':'')+format(abs(datum.value),'d') : ''", "tickSize": {"condition": {"test": "datum.value%10==0", "value": 5}, "value": 2.5}}},
         "y": {"field": "h", "type": "quantitative", "scale": {"domain": [0, 6], "nice": false, "zero": false}, "axis": {"orient": "left", "values": [0,1,2,3,4,5,6], "tickSize": 5}},
         "color": {"field": "p", "type": "nominal", "scale": {"domain": ["NGEML","NSEML","NRCOL","NGMLT","NSMLT","NRAUT"], "range": ["#8dc63f","#1cc3d6","#ff4c14","#ffa04a","#15892e","#1b3c8c"]}, "legend": null},
         "order": {"field": "h", "type": "quantitative"}}},
      {"data": {"values": [{}]}, "mark": {"type": "rule", "color": "#ff1a1a", "strokeWidth": 1.5}, "encoding": {"y": {"datum": 4.95, "type": "quantitative", "axis": {"orient": "right", "values": [0,1,2,3,4,5,6], "labels": false, "tickSize": 5, "title": null}}}},
      {"data": {"values": [{}]}, "mark": {"type": "text", "align": "right", "baseline": "alphabetic", "font": "Liberation Serif", "fontSize": 22, "dx": -2, "dy": -4, "color": "black"}, "encoding": {"x": {"datum": 40, "type": "quantitative", "axis": {"orient": "top", "values": [-40,-35,-30,-25,-20,-15,-10,-5,0,5,10,15,20,25,30,35,40], "labels": false, "title": null, "tickSize": {"condition": {"test": "datum.value%10==0", "value": 5}, "value": 2.5}}}, "y": {"datum": 0, "type": "quantitative", "axis": null}, "text": {"value": "(c)"}}}
    ]},
    {"width": 125, "height": 127, "title": {"text": "WDM6_H"}, "layer": [
      {"data": {"name": "R"}, "transform": [{"filter": "datum.pan=='d'"}], "mark": {"type": "line", "strokeWidth": 2, "clip": true},
       "encoding": {
         "x": {"field": "v", "type": "quantitative", "scale": {"domain": [-40, 40], "nice": false, "zero": false}, "axis": {"orient": "bottom", "values": [-40,-35,-30,-25,-20,-15,-10,-5,0,5,10,15,20,25,30,35,40], "labelExpr": "datum.value%10==0 ? (datum.value<0?'-':'')+format(abs(datum.value),'d') : ''", "tickSize": {"condition": {"test": "datum.value%10==0", "value": 5}, "value": 2.5}}},
         "y": {"field": "h", "type": "quantitative", "scale": {"domain": [0, 6], "nice": false, "zero": false}, "axis": {"orient": "left", "values": [0,1,2,3,4,5,6], "tickSize": 5}},
         "color": {"field": "p", "type": "nominal", "scale": {"domain": ["NGEML","NSEML","NRCOL","NGMLT","NSMLT","NRAUT"], "range": ["#8dc63f","#1cc3d6","#ff4c14","#ffa04a","#15892e","#1b3c8c"]}, "legend": null},
         "order": {"field": "h", "type": "quantitative"}}},
      {"data": {"values": [{}]}, "mark": {"type": "rule", "color": "#ff1a1a", "strokeWidth": 1.5}, "encoding": {"y": {"datum": 4.95, "type": "quantitative", "axis": {"orient": "right", "values": [0,1,2,3,4,5,6], "labels": false, "tickSize": 5, "title": null}}}},
      {"data": {"values": [{}]}, "mark": {"type": "text", "align": "right", "baseline": "alphabetic", "font": "Liberation Serif", "fontSize": 22, "dx": -2, "dy": -4, "color": "black"}, "encoding": {"x": {"datum": 40, "type": "quantitative", "axis": {"orient": "top", "values": [-40,-35,-30,-25,-20,-15,-10,-5,0,5,10,15,20,25,30,35,40], "labels": false, "title": null, "tickSize": {"condition": {"test": "datum.value%10==0", "value": 5}, "value": 2.5}}}, "y": {"datum": 0, "type": "quantitative", "axis": null}, "text": {"value": "(d)"}}}
    ]},

    {"width": 122, "height": 125, "view": {"stroke": null}, "data": {"name": "T"}, "transform": [{"filter": "datum.row==2"}],
     "mark": {"type": "text", "align": "left", "baseline": "middle", "font": "Liberation Serif", "fontSize": 19, "lineHeight": 26, "lineBreak": "\n", "color": "black"},
     "encoding": {"x": {"datum": 0, "type": "quantitative", "scale": {"domain": [0, 1]}, "axis": null}, "y": {"field": "m", "type": "nominal", "scale": {"type": "point", "padding": 0.419, "align": 0.28}, "axis": null}, "text": {"field": "t", "type": "nominal"}}},
    {"width": 125, "height": 125, "layer": [
      {"data": {"name": "L"}, "transform": [{"filter": "datum.pan=='e'"}], "mark": {"type": "line", "strokeWidth": 2, "clip": true},
       "encoding": {
         "x": {"field": "v", "type": "quantitative", "scale": {"domain": [-1.5, 1.5], "nice": false, "zero": false}, "axis": {"orient": "bottom", "values": [-1.5,-1.4,-1.3,-1.2,-1.1,-1,-0.9,-0.8,-0.7,-0.6,-0.5,-0.4,-0.3,-0.2,-0.1,0,0.1,0.2,0.3,0.4,0.5,0.6,0.7,0.8,0.9,1,1.1,1.2,1.3,1.4,1.5], "labelExpr": "abs(datum.value*2-round(datum.value*2))<0.01 ? (abs(datum.value)<0.01 ? '0' : (datum.value<0?'-':'')+format(abs(datum.value),'.1f')) : ''", "tickSize": {"condition": {"test": "abs(datum.value*2-round(datum.value*2))<0.01", "value": 5}, "value": 2.5}}},
         "y": {"field": "h", "type": "quantitative", "scale": {"domain": [0, 6], "nice": false, "zero": false}, "axis": {"orient": "left", "values": [0,1,2,3,4,5,6], "tickSize": 5, "title": "Height(km)", "titlePadding": 6}},
         "color": {"field": "p", "type": "nominal", "scale": {"domain": ["PAACW","PGEML","PSEML","PRACW","PREVP","PGMLT","PSMLT","PRAUT"], "range": ["#f564a9","#8dc63f","#1cc3d6","#7b3f9e","#8b1010","#ff9f43","#15892e","#1b3c8c"]}, "legend": null},
         "order": {"field": "h", "type": "quantitative"}}},
      {"data": {"values": [{}]}, "mark": {"type": "rule", "color": "#ff1a1a", "strokeWidth": 1.5}, "encoding": {"y": {"datum": 4.95, "type": "quantitative", "axis": {"orient": "right", "values": [0,1,2,3,4,5,6], "labels": false, "tickSize": 5, "title": null}}}},
      {"data": {"values": [{}]}, "mark": {"type": "text", "align": "right", "baseline": "alphabetic", "font": "Liberation Serif", "fontSize": 22, "dx": -2, "dy": -4, "color": "black"}, "encoding": {"x": {"datum": 1.5, "type": "quantitative", "axis": {"orient": "top", "values": [-1.5,-1.4,-1.3,-1.2,-1.1,-1,-0.9,-0.8,-0.7,-0.6,-0.5,-0.4,-0.3,-0.2,-0.1,0,0.1,0.2,0.3,0.4,0.5,0.6,0.7,0.8,0.9,1,1.1,1.2,1.3,1.4,1.5], "labels": false, "title": null, "tickSize": {"condition": {"test": "abs(datum.value*2-round(datum.value*2))<0.01", "value": 5}, "value": 2.5}}}, "y": {"datum": 0, "type": "quantitative", "axis": null}, "text": {"value": "(e)"}}}
    ]},
    {"width": 125, "height": 125, "layer": [
      {"data": {"name": "L"}, "transform": [{"filter": "datum.pan=='f'"}], "mark": {"type": "line", "strokeWidth": 2, "clip": true},
       "encoding": {
         "x": {"field": "v", "type": "quantitative", "scale": {"domain": [-1.5, 1.5], "nice": false, "zero": false}, "axis": {"orient": "bottom", "values": [-1.5,-1.4,-1.3,-1.2,-1.1,-1,-0.9,-0.8,-0.7,-0.6,-0.5,-0.4,-0.3,-0.2,-0.1,0,0.1,0.2,0.3,0.4,0.5,0.6,0.7,0.8,0.9,1,1.1,1.2,1.3,1.4,1.5], "labelExpr": "abs(datum.value*2-round(datum.value*2))<0.01 ? (abs(datum.value)<0.01 ? '0' : (datum.value<0?'-':'')+format(abs(datum.value),'.1f')) : ''", "tickSize": {"condition": {"test": "abs(datum.value*2-round(datum.value*2))<0.01", "value": 5}, "value": 2.5}}},
         "y": {"field": "h", "type": "quantitative", "scale": {"domain": [0, 6], "nice": false, "zero": false}, "axis": {"orient": "left", "values": [0,1,2,3,4,5,6], "tickSize": 5}},
         "color": {"field": "p", "type": "nominal", "scale": {"domain": ["PAACW","PGEML","PSEML","PRACW","PREVP","PGMLT","PSMLT","PRAUT"], "range": ["#f564a9","#8dc63f","#1cc3d6","#7b3f9e","#8b1010","#ff9f43","#15892e","#1b3c8c"]}, "legend": {"orient": "right", "offset": 14, "padding": 4, "rowPadding": 0}},
         "order": {"field": "h", "type": "quantitative"}}},
      {"data": {"values": [{}]}, "mark": {"type": "rule", "color": "#ff1a1a", "strokeWidth": 1.5}, "encoding": {"y": {"datum": 4.95, "type": "quantitative", "axis": {"orient": "right", "values": [0,1,2,3,4,5,6], "labels": false, "tickSize": 5, "title": null}}}},
      {"data": {"values": [{}]}, "mark": {"type": "text", "align": "right", "baseline": "alphabetic", "font": "Liberation Serif", "fontSize": 22, "dx": -2, "dy": -4, "color": "black"}, "encoding": {"x": {"datum": 1.5, "type": "quantitative", "axis": {"orient": "top", "values": [-1.5,-1.4,-1.3,-1.2,-1.1,-1,-0.9,-0.8,-0.7,-0.6,-0.5,-0.4,-0.3,-0.2,-0.1,0,0.1,0.2,0.3,0.4,0.5,0.6,0.7,0.8,0.9,1,1.1,1.2,1.3,1.4,1.5], "labels": false, "title": null, "tickSize": {"condition": {"test": "abs(datum.value*2-round(datum.value*2))<0.01", "value": 5}, "value": 2.5}}}, "y": {"datum": 0, "type": "quantitative", "axis": null}, "text": {"value": "(f)"}}}
    ]},
    {"width": 59, "height": 125, "view": {"stroke": null}, "data": {"values": [{}]}, "mark": {"type": "text"}, "encoding": {"text": {"value": ""}}},
    {"width": 125, "height": 127, "layer": [
      {"data": {"name": "R"}, "transform": [{"filter": "datum.pan=='g'"}], "mark": {"type": "line", "strokeWidth": 2, "clip": true},
       "encoding": {
         "x": {"field": "v", "type": "quantitative", "scale": {"domain": [-40, 40], "nice": false, "zero": false}, "axis": {"orient": "bottom", "values": [-40,-35,-30,-25,-20,-15,-10,-5,0,5,10,15,20,25,30,35,40], "labelExpr": "datum.value%10==0 ? (datum.value<0?'-':'')+format(abs(datum.value),'d') : ''", "tickSize": {"condition": {"test": "datum.value%10==0", "value": 5}, "value": 2.5}}},
         "y": {"field": "h", "type": "quantitative", "scale": {"domain": [0, 6], "nice": false, "zero": false}, "axis": {"orient": "left", "values": [0,1,2,3,4,5,6], "tickSize": 5}},
         "color": {"field": "p", "type": "nominal", "scale": {"domain": ["NGEML","NSEML","NRCOL","NGMLT","NSMLT","NRAUT"], "range": ["#8dc63f","#1cc3d6","#ff4c14","#ffa04a","#15892e","#1b3c8c"]}, "legend": null},
         "order": {"field": "h", "type": "quantitative"}}},
      {"data": {"values": [{}]}, "mark": {"type": "rule", "color": "#ff1a1a", "strokeWidth": 1.5}, "encoding": {"y": {"datum": 4.95, "type": "quantitative", "axis": {"orient": "right", "values": [0,1,2,3,4,5,6], "labels": false, "tickSize": 5, "title": null}}}},
      {"data": {"values": [{}]}, "mark": {"type": "text", "align": "right", "baseline": "alphabetic", "font": "Liberation Serif", "fontSize": 22, "dx": -2, "dy": -4, "color": "black"}, "encoding": {"x": {"datum": 40, "type": "quantitative", "axis": {"orient": "top", "values": [-40,-35,-30,-25,-20,-15,-10,-5,0,5,10,15,20,25,30,35,40], "labels": false, "title": null, "tickSize": {"condition": {"test": "datum.value%10==0", "value": 5}, "value": 2.5}}}, "y": {"datum": 0, "type": "quantitative", "axis": null}, "text": {"value": "(g)"}}}
    ]},
    {"width": 125, "height": 127, "layer": [
      {"data": {"name": "R"}, "transform": [{"filter": "datum.pan=='h'"}], "mark": {"type": "line", "strokeWidth": 2, "clip": true},
       "encoding": {
         "x": {"field": "v", "type": "quantitative", "scale": {"domain": [-40, 40], "nice": false, "zero": false}, "axis": {"orient": "bottom", "values": [-40,-35,-30,-25,-20,-15,-10,-5,0,5,10,15,20,25,30,35,40], "labelExpr": "datum.value%10==0 ? (datum.value<0?'-':'')+format(abs(datum.value),'d') : ''", "tickSize": {"condition": {"test": "datum.value%10==0", "value": 5}, "value": 2.5}}},
         "y": {"field": "h", "type": "quantitative", "scale": {"domain": [0, 6], "nice": false, "zero": false}, "axis": {"orient": "left", "values": [0,1,2,3,4,5,6], "tickSize": 5}},
         "color": {"field": "p", "type": "nominal", "scale": {"domain": ["NGEML","NSEML","NRCOL","NGMLT","NSMLT","NRAUT"], "range": ["#8dc63f","#1cc3d6","#ff4c14","#ffa04a","#15892e","#1b3c8c"]}, "legend": {"orient": "right", "offset": 13, "padding": 0, "rowPadding": 2}},
         "order": {"field": "h", "type": "quantitative"}}},
      {"data": {"values": [{}]}, "mark": {"type": "rule", "color": "#ff1a1a", "strokeWidth": 1.5}, "encoding": {"y": {"datum": 4.95, "type": "quantitative", "axis": {"orient": "right", "values": [0,1,2,3,4,5,6], "labels": false, "tickSize": 5, "title": null}}}},
      {"data": {"values": [{}]}, "mark": {"type": "text", "align": "right", "baseline": "alphabetic", "font": "Liberation Serif", "fontSize": 22, "dx": -2, "dy": -4, "color": "black"}, "encoding": {"x": {"datum": 40, "type": "quantitative", "axis": {"orient": "top", "values": [-40,-35,-30,-25,-20,-15,-10,-5,0,5,10,15,20,25,30,35,40], "labels": false, "title": null, "tickSize": {"condition": {"test": "datum.value%10==0", "value": 5}, "value": 2.5}}}, "y": {"datum": 0, "type": "quantitative", "axis": null}, "text": {"value": "(h)"}}}
    ]},

    {"width": 122, "height": 125, "view": {"stroke": null}, "data": {"name": "T"}, "transform": [{"filter": "datum.row==3"}],
     "mark": {"type": "text", "align": "left", "baseline": "middle", "font": "Liberation Serif", "fontSize": 19, "lineHeight": 26, "lineBreak": "\n", "color": "black"},
     "encoding": {"x": {"datum": 0, "type": "quantitative", "scale": {"domain": [0, 1]}, "axis": null}, "y": {"field": "m", "type": "nominal", "scale": {"type": "point", "padding": 0.419, "align": 0.28}, "axis": null}, "text": {"field": "t", "type": "nominal"}}},
    {"width": 125, "height": 125, "layer": [
      {"data": {"name": "L"}, "transform": [{"filter": "datum.pan=='i'"}], "mark": {"type": "line", "strokeWidth": 2, "clip": true},
       "encoding": {
         "x": {"field": "v", "type": "quantitative", "scale": {"domain": [-1.5, 1.5], "nice": false, "zero": false}, "axis": {"orient": "bottom", "values": [-1.5,-1.4,-1.3,-1.2,-1.1,-1,-0.9,-0.8,-0.7,-0.6,-0.5,-0.4,-0.3,-0.2,-0.1,0,0.1,0.2,0.3,0.4,0.5,0.6,0.7,0.8,0.9,1,1.1,1.2,1.3,1.4,1.5], "labelExpr": "abs(datum.value*2-round(datum.value*2))<0.01 ? (abs(datum.value)<0.01 ? '0' : (datum.value<0?'-':'')+format(abs(datum.value),'.1f')) : ''", "tickSize": {"condition": {"test": "abs(datum.value*2-round(datum.value*2))<0.01", "value": 5}, "value": 2.5}, "title": "Conversion rate(10⁻⁶ kg/(kg×s))", "titleX": 138, "titleY": 44, "titleAlign": "center", "titleBaseline": "alphabetic", "titleFontSize": 20}},
         "y": {"field": "h", "type": "quantitative", "scale": {"domain": [0, 6], "nice": false, "zero": false}, "axis": {"orient": "left", "values": [0,1,2,3,4,5,6], "tickSize": 5, "title": "Heig ht(km)", "titlePadding": 6}},
         "color": {"field": "p", "type": "nominal", "scale": {"domain": ["PAACW","PGEML","PSEML","PRACW","PREVP","PGMLT","PSMLT","PRAUT"], "range": ["#f564a9","#8dc63f","#1cc3d6","#7b3f9e","#8b1010","#ff9f43","#15892e","#1b3c8c"]}, "legend": null},
         "order": {"field": "h", "type": "quantitative"}}},
      {"data": {"values": [{}]}, "mark": {"type": "rule", "color": "#ff1a1a", "strokeWidth": 1.5}, "encoding": {"y": {"datum": 4.95, "type": "quantitative", "axis": {"orient": "right", "values": [0,1,2,3,4,5,6], "labels": false, "tickSize": 5, "title": null}}}},
      {"data": {"values": [{}]}, "mark": {"type": "text", "align": "right", "baseline": "alphabetic", "font": "Liberation Serif", "fontSize": 22, "dx": -2, "dy": -4, "color": "black"}, "encoding": {"x": {"datum": 1.5, "type": "quantitative", "axis": {"orient": "top", "values": [-1.5,-1.4,-1.3,-1.2,-1.1,-1,-0.9,-0.8,-0.7,-0.6,-0.5,-0.4,-0.3,-0.2,-0.1,0,0.1,0.2,0.3,0.4,0.5,0.6,0.7,0.8,0.9,1,1.1,1.2,1.3,1.4,1.5], "labels": false, "title": null, "tickSize": {"condition": {"test": "abs(datum.value*2-round(datum.value*2))<0.01", "value": 5}, "value": 2.5}}}, "y": {"datum": 0, "type": "quantitative", "axis": null}, "text": {"value": "(i)"}}}
    ]},
    {"width": 125, "height": 125, "layer": [
      {"data": {"name": "L"}, "transform": [{"filter": "datum.pan=='j'"}], "mark": {"type": "line", "strokeWidth": 2, "clip": true},
       "encoding": {
         "x": {"field": "v", "type": "quantitative", "scale": {"domain": [-1.5, 1.5], "nice": false, "zero": false}, "axis": {"orient": "bottom", "values": [-1.5,-1.4,-1.3,-1.2,-1.1,-1,-0.9,-0.8,-0.7,-0.6,-0.5,-0.4,-0.3,-0.2,-0.1,0,0.1,0.2,0.3,0.4,0.5,0.6,0.7,0.8,0.9,1,1.1,1.2,1.3,1.4,1.5], "labelExpr": "abs(datum.value*2-round(datum.value*2))<0.01 ? (abs(datum.value)<0.01 ? '0' : (datum.value<0?'-':'')+format(abs(datum.value),'.1f')) : ''", "tickSize": {"condition": {"test": "abs(datum.value*2-round(datum.value*2))<0.01", "value": 5}, "value": 2.5}}},
         "y": {"field": "h", "type": "quantitative", "scale": {"domain": [0, 6], "nice": false, "zero": false}, "axis": {"orient": "left", "values": [0,1,2,3,4,5,6], "tickSize": 5}},
         "color": {"field": "p", "type": "nominal", "scale": {"domain": ["PAACW","PGEML","PSEML","PRACW","PREVP","PGMLT","PSMLT","PRAUT"], "range": ["#f564a9","#8dc63f","#1cc3d6","#7b3f9e","#8b1010","#ff9f43","#15892e","#1b3c8c"]}, "legend": null},
         "order": {"field": "h", "type": "quantitative"}}},
      {"data": {"values": [{}]}, "mark": {"type": "rule", "color": "#ff1a1a", "strokeWidth": 1.5}, "encoding": {"y": {"datum": 4.95, "type": "quantitative", "axis": {"orient": "right", "values": [0,1,2,3,4,5,6], "labels": false, "tickSize": 5, "title": null}}}},
      {"data": {"values": [{}]}, "mark": {"type": "text", "align": "right", "baseline": "alphabetic", "font": "Liberation Serif", "fontSize": 22, "dx": -2, "dy": -4, "color": "black"}, "encoding": {"x": {"datum": 1.5, "type": "quantitative", "axis": {"orient": "top", "values": [-1.5,-1.4,-1.3,-1.2,-1.1,-1,-0.9,-0.8,-0.7,-0.6,-0.5,-0.4,-0.3,-0.2,-0.1,0,0.1,0.2,0.3,0.4,0.5,0.6,0.7,0.8,0.9,1,1.1,1.2,1.3,1.4,1.5], "labels": false, "title": null, "tickSize": {"condition": {"test": "abs(datum.value*2-round(datum.value*2))<0.01", "value": 5}, "value": 2.5}}}, "y": {"datum": 0, "type": "quantitative", "axis": null}, "text": {"value": "(j)"}}}
    ]},
    {"width": 59, "height": 125, "view": {"stroke": null}, "data": {"values": [{}]}, "mark": {"type": "text"}, "encoding": {"text": {"value": ""}}},
    {"width": 125, "height": 127, "layer": [
      {"data": {"name": "R"}, "transform": [{"filter": "datum.pan=='k'"}], "mark": {"type": "line", "strokeWidth": 2, "clip": true},
       "encoding": {
         "x": {"field": "v", "type": "quantitative", "scale": {"domain": [-250, 250], "nice": false, "zero": false}, "axis": {"orient": "bottom", "values": [-250,-200,-150,-100,-50,0,50,100,150,200,250], "labelExpr": "(datum.value==0 || abs(datum.value)%100==50) ? (datum.value<0?'-':'')+format(abs(datum.value),'d') : ''", "tickSize": 5, "title": "Conversion rate(kg⁻¹s⁻¹)", "titleX": 162, "titleY": 44, "titleAlign": "center", "titleBaseline": "alphabetic", "titleFontSize": 20}},
         "y": {"field": "h", "type": "quantitative", "scale": {"domain": [0, 6], "nice": false, "zero": false}, "axis": {"orient": "left", "values": [0,1,2,3,4,5,6], "tickSize": 5}},
         "color": {"field": "p", "type": "nominal", "scale": {"domain": ["NGEML","NSEML","NRCOL","NGMLT","NSMLT","NRAUT"], "range": ["#8dc63f","#1cc3d6","#ff4c14","#ffa04a","#15892e","#1b3c8c"]}, "legend": null},
         "order": {"field": "h", "type": "quantitative"}}},
      {"data": {"values": [{}]}, "mark": {"type": "rule", "color": "#ff1a1a", "strokeWidth": 1.5}, "encoding": {"y": {"datum": 4.95, "type": "quantitative", "axis": {"orient": "right", "values": [0,1,2,3,4,5,6], "labels": false, "tickSize": 5, "title": null}}}},
      {"data": {"values": [{}]}, "mark": {"type": "text", "align": "right", "baseline": "alphabetic", "font": "Liberation Serif", "fontSize": 22, "dx": -2, "dy": -4, "color": "black"}, "encoding": {"x": {"datum": 250, "type": "quantitative", "axis": {"orient": "top", "values": [-250,-200,-150,-100,-50,0,50,100,150,200,250], "labels": false, "title": null, "tickSize": 5}}, "y": {"datum": 0, "type": "quantitative", "axis": null}, "text": {"value": "(k)"}}}
    ]},
    {"width": 125, "height": 127, "layer": [
      {"data": {"name": "R"}, "transform": [{"filter": "datum.pan=='l'"}], "mark": {"type": "line", "strokeWidth": 2, "clip": true},
       "encoding": {
         "x": {"field": "v", "type": "quantitative", "scale": {"domain": [-40, 40], "nice": false, "zero": false}, "axis": {"orient": "bottom", "values": [-40,-35,-30,-25,-20,-15,-10,-5,0,5,10,15,20,25,30,35,40], "labelExpr": "datum.value%10==0 ? (datum.value<0?'-':'')+format(abs(datum.value),'d') : ''", "tickSize": {"condition": {"test": "datum.value%10==0", "value": 5}, "value": 2.5}}},
         "y": {"field": "h", "type": "quantitative", "scale": {"domain": [0, 6], "nice": false, "zero": false}, "axis": {"orient": "left", "values": [0,1,2,3,4,5,6], "tickSize": 5}},
         "color": {"field": "p", "type": "nominal", "scale": {"domain": ["NGEML","NSEML","NRCOL","NGMLT","NSMLT","NRAUT"], "range": ["#8dc63f","#1cc3d6","#ff4c14","#ffa04a","#15892e","#1b3c8c"]}, "legend": null},
         "order": {"field": "h", "type": "quantitative"}}},
      {"data": {"values": [{}]}, "mark": {"type": "rule", "color": "#ff1a1a", "strokeWidth": 1.5}, "encoding": {"y": {"datum": 4.95, "type": "quantitative", "axis": {"orient": "right", "values": [0,1,2,3,4,5,6], "labels": false, "tickSize": 5, "title": null}}}},
      {"data": {"values": [{}]}, "mark": {"type": "text", "align": "right", "baseline": "alphabetic", "font": "Liberation Serif", "fontSize": 22, "dx": -2, "dy": -4, "color": "black"}, "encoding": {"x": {"datum": 40, "type": "quantitative", "axis": {"orient": "top", "values": [-40,-35,-30,-25,-20,-15,-10,-5,0,5,10,15,20,25,30,35,40], "labels": false, "title": null, "tickSize": {"condition": {"test": "datum.value%10==0", "value": 5}, "value": 2.5}}}, "y": {"datum": 0, "type": "quantitative", "axis": null}, "text": {"value": "(l)"}}}
    ]}
  ]
}
